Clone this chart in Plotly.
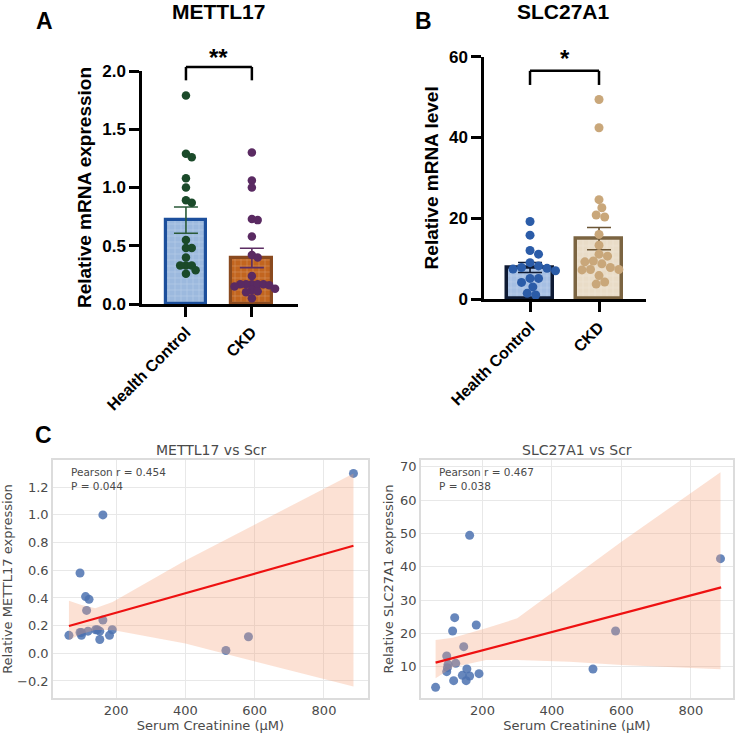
import plotly.graph_objects as go

W, H = 737, 735

# ---------------- Data ----------------
groups = ["Health Control", "CKD"]

# Panel A: METTL17 relative mRNA expression
mettl17_hc = [1.79, 1.29, 1.26, 1.08, 1.00, 0.89, 0.87, 0.55, 0.48, 0.48, 0.40, 0.33, 0.33, 0.33, 0.29, 0.26]
mettl17_ckd = [1.30, 1.06, 1.00, 0.73, 0.72, 0.58, 0.42, 0.40, 0.24, 0.17, 0.17, 0.17, 0.17, 0.17,
               0.16, 0.15, 0.13, 0.12, 0.11, 0.10, 0.05]
mettl17_mean = [0.72, 0.395]
mettl17_sem = [0.113, 0.083]

# Panel B: SLC27A1 relative mRNA level
slc_hc = [19.2, 15.8, 12.0, 11.1, 9.0, 8.2, 7.8, 7.6, 7.0, 7.4, 5.1, 5.1, 4.1, 3.0, 1.4, 1.0]
slc_ckd = [49.4, 42.4, 24.6, 22.6, 20.3, 20.8, 16.0, 13.3, 11.1, 10.6, 9.4, 9.2, 8.7, 7.8,
           7.3, 7.3, 7.2, 5.8, 4.2, 3.7]
slc_mean = [7.8, 14.95]
slc_sem = [1.25, 2.75]

# Significance brackets (top, end) in data units and labels
sig_a = (2.035, 1.92, "**", 2.115)
sig_b = (56.5, 53.0, "*", 59.6)

# Panel C left: METTL17 vs Scr
scr_m = [64, 96, 96, 100, 100, 112, 115, 119, 122, 141, 146, 153, 153, 162, 162, 181, 189, 517, 582, 885]
mettl_m = [0.13, 0.58, 0.15, 0.15, 0.13, 0.41, 0.31, 0.16, 0.39, 0.17, 0.17, 0.16, 0.10, 1.00, 0.24,
           0.13, 0.17, 0.02, 0.12, 1.30]
fit_m_x = [64, 885]
fit_m_y = [0.197, 0.777]
ci_m_x = [64, 100, 140, 190, 400, 885]
ci_m_hi = [0.38, 0.35, 0.325, 0.37, 0.67, 1.30]
ci_m_lo = [0.096, 0.14, 0.168, 0.168, 0.07, -0.24]
stat_m = "Pearson r = 0.454<br>P = 0.044"

# Panel C right: SLC27A1 vs Scr
scr_s = [65, 97, 97, 99, 101, 114, 117, 120, 123, 142, 146, 153, 155, 163, 163, 182, 190, 518, 583, 885]
slc_s = [3.8, 13.2, 8.5, 9.7, 10.7, 20.7, 5.8, 24.7, 11.0, 7.4, 16.0, 5.8, 9.3, 49.4, 7.2,
         22.5, 7.9, 9.3, 20.7, 42.4]
fit_s_x = [65, 887]
fit_s_y = [11.2, 33.8]
ci_s_x = [65, 115, 210, 300, 450, 600, 885]
ci_s_hi = [18.0, 18.7, 21.5, 24.5, 36.0, 47.5, 68.3]
ci_s_lo = [6.5, 9.8, 12.0, 12.0, 11.5, 10.5, 9.2]
stat_s = "Pearson r = 0.467<br>P = 0.038"

# ---------------- Layout geometry (pixels) ----------------
def px_x(p):
    return p / W

def px_y(p):
    return 1 - p / H

A_dom_x = [px_x(142), px_x(298)]
A_dom_y = [px_y(304), px_y(71)]
A_xr = [-0.667, 1.70]
A_yr = [0, 2.0]

B_dom_x = [px_x(484), px_x(646)]
B_dom_y = [px_y(299), px_y(56.7)]
B_xr = [-0.667, 1.681]
B_yr = [0, 60]

C1_dom_x = [px_x(53), px_x(368)]
C2_dom_x = [px_x(421), px_x(733)]
C_dom_y = [px_y(698), px_y(460)]
C1_xr, C1_yr = [18, 927], [-0.323, 1.397]
C2_xr, C2_yr = [23, 921], [0.6, 72]

BOLD = "Liberation Sans, Arial, sans-serif"
SNS = "DejaVu Sans, sans-serif"
GREY = "#4a4a4a"


def swarm(vals, dom_x, xr, dom_y, yr, d):
    """Simple beeswarm: returns x offsets (category units) avoiding overlap."""
    ppu_x = (dom_x[1] - dom_x[0]) * W / (xr[1] - xr[0])
    ppu_y = (dom_y[1] - dom_y[0]) * H / (yr[1] - yr[0])
    order = sorted(range(len(vals)), key=lambda i: -vals[i])
    placed = []
    offs = [0.0] * len(vals)
    step = d / 3.0
    cands = [0.0]
    for k in range(1, 60):
        cands += [k * step, -k * step]
    for i in order:
        y = vals[i] * ppu_y
        for c in cands:
            if all((c - px) ** 2 + (y - py) ** 2 >= d ** 2 for px, py in placed):
                break
        placed.append((c, y))
        offs[i] = c / ppu_x
    return offs


fig = go.Figure()

def pattern(fill):
    return dict(shape="+", bgcolor=fill, fgcolor="white", fgopacity=0.35, size=6,
                solidity=0.15, fillmode="replace")

# ---------------- Panel A ----------------
bar_specs_A = [
    dict(fill="#9cb9de", line="#1c4f9c", err="#2a5a38", dot="#1b4a2a"),
    dict(fill="#c2651f", line="#8a4a1f", err="#5c2d63", dot="#5a2a62"),
]
for gi, (vals, spec) in enumerate(zip([mettl17_hc, mettl17_ckd], bar_specs_A)):
    fig.add_trace(go.Bar(
        x=[gi], y=[mettl17_mean[gi]], width=0.62, xaxis="x", yaxis="y",
        marker=dict(color=spec["fill"], line=dict(color=spec["line"], width=3.2),
                    pattern=pattern(spec["fill"])),
        error_y=dict(type="data", array=[mettl17_sem[gi]], color=spec["err"], thickness=1.6, width=12),
        showlegend=False, hoverinfo="skip"))
    offs = swarm(vals, A_dom_x, A_xr, A_dom_y, A_yr, 5.8)
    fig.add_trace(go.Scatter(
        x=[gi + o for o in offs], y=vals, mode="markers", xaxis="x", yaxis="y",
        marker=dict(color=spec["dot"], size=8.5), showlegend=False, cliponaxis=False))

# ---------------- Panel B ----------------
bar_specs_B = [
    dict(fill="#a6bfe3", line="#0e1a33", err="#0e1a33", dot="#2b5ca8"),
    dict(fill="#e9dcc7", line="#7b6441", err="#6b5535", dot="#c9a77a"),
]
for gi, (vals, spec) in enumerate(zip([slc_hc, slc_ckd], bar_specs_B)):
    fig.add_trace(go.Bar(
        x=[gi], y=[slc_mean[gi]], width=0.66, xaxis="x2", yaxis="y2",
        marker=dict(color=spec["fill"], line=dict(color=spec["line"], width=3.5),
                    pattern=pattern(spec["fill"])),
        error_y=dict(type="data", array=[slc_sem[gi]], color=spec["err"], thickness=1.6, width=12),
        showlegend=False, hoverinfo="skip"))
    offs = swarm(vals, B_dom_x, B_xr, B_dom_y, B_yr, 8.5)
    fig.add_trace(go.Scatter(
        x=[gi + o for o in offs], y=vals, mode="markers", xaxis="x2", yaxis="y2",
        marker=dict(color=spec["dot"], size=9), showlegend=False, cliponaxis=False))

# ---------------- Panel C ----------------
def reg_panel(xs, ys, fx, fy, cx, clo, chi, xa, ya):
    fig.add_trace(go.Scatter(x=xs, y=ys, mode="markers", xaxis=xa, yaxis=ya,
                             marker=dict(color="rgba(76,114,176,0.85)", size=9),
                             showlegend=False))
    fig.add_trace(go.Scatter(x=cx, y=clo, mode="lines", line=dict(width=0), xaxis=xa, yaxis=ya,
                             showlegend=False, hoverinfo="skip"))
    fig.add_trace(go.Scatter(x=cx, y=chi, mode="lines", line=dict(width=0), fill="tonexty",
                             fillcolor="rgba(245,165,125,0.33)", xaxis=xa, yaxis=ya,
                             showlegend=False, hoverinfo="skip"))
    fig.add_trace(go.Scatter(x=fx, y=fy, mode="lines", line=dict(color="#ee1111", width=2.2),
                             xaxis=xa, yaxis=ya, showlegend=False))

reg_panel(scr_m, mettl_m, fit_m_x, fit_m_y, ci_m_x, ci_m_lo, ci_m_hi, "x3", "y3")
reg_panel(scr_s, slc_s, fit_s_x, fit_s_y, ci_s_x, ci_s_lo, ci_s_hi, "x4", "y4")

# ---------------- Axes ----------------
def bar_xaxis(dom, rng, anchor):
    return dict(domain=dom, range=rng, anchor=anchor, tickmode="array", tickvals=[0, 1],
                ticktext=groups, tickangle=-45, showline=True, linecolor="black", linewidth=2.5,
                ticks="outside", ticklen=10, tickwidth=2.5, tickcolor="black", showgrid=False,
                zeroline=False, automargin=False,
                tickfont=dict(family=BOLD, size=16, color="black", weight="bold"))

def bar_yaxis(dom, rng, anchor, tickvals, fmt, title):
    return dict(domain=dom, range=rng, anchor=anchor, tickmode="array", tickvals=tickvals,
                tickformat=fmt, showline=True, linecolor="black", linewidth=2.5, ticks="outside",
                ticklen=10, tickwidth=2.5, tickcolor="black", showgrid=False, zeroline=False,
                automargin=False,
                tickfont=dict(family=BOLD, size=17, color="black", weight="bold"),
                title=dict(text=title, standoff=6,
                           font=dict(family=BOLD, size=19, color="black", weight="bold")))

def reg_axis(dom, rng, anchor, title, tickvals=None, fmt=None):
    d = dict(domain=dom, range=rng, anchor=anchor, showline=True, mirror=True,
             linecolor="#dcdcdc", linewidth=1.5, showgrid=True, gridcolor="#e8e8e8",
             gridwidth=1, zeroline=False, ticks="", automargin=False,
             tickfont=dict(family=SNS, size=13, color=GREY),
             title=dict(text=title, standoff=4, font=dict(family=SNS, size=13, color=GREY)))
    if tickvals is not None:
        d["tickmode"] = "array"
        d["tickvals"] = tickvals
    if fmt:
        d["tickformat"] = fmt
    return d

layout = dict(
    template="none",
    width=W, height=H, margin=dict(l=0, r=0, t=0, b=0, autoexpand=False),
    paper_bgcolor="white", plot_bgcolor="white", bargap=0,
    xaxis=bar_xaxis(A_dom_x, A_xr, "y"),
    yaxis=bar_yaxis(A_dom_y, A_yr, "x", [0, 0.5, 1.0, 1.5, 2.0], ".1f", "Relative mRNA expression"),
    xaxis2=bar_xaxis(B_dom_x, B_xr, "y2"),
    yaxis2=bar_yaxis(B_dom_y, B_yr, "x2", [0, 20, 40, 60], "d", "Relative mRNA level"),
    xaxis3=reg_axis(C1_dom_x, C1_xr, "y3", "Serum Creatinine (μM)", [200, 400, 600, 800]),
    yaxis3=reg_axis(C_dom_y, C1_yr, "x3", "Relative METTL17 expression",
                    [-0.2, 0.0, 0.2, 0.4, 0.6, 0.8, 1.0, 1.2], ".1f"),
    xaxis4=reg_axis(C2_dom_x, C2_xr, "y4", "Serum Creatinine (μM)", [200, 400, 600, 800]),
    yaxis4=reg_axis(C_dom_y, C2_yr, "x4", "Relative SLC27A1 expression",
                    [10, 20, 30, 40, 50, 60, 70]),
)
fig.update_layout(**layout)

# ---------------- Brackets & annotations ----------------
shapes = []
annotations = []
for (top, end, label, star_y), xa, ya, yr in [(sig_a, "x", "y", A_yr), (sig_b, "x2", "y2", B_yr)]:
    ft, fe = top / yr[1], end / yr[1]
    for (x0, y0, x1, y1) in [(0, fe, 0, ft), (0, ft, 1, ft), (1, ft, 1, fe)]:
        shapes.append(dict(type="line", xref=xa, yref=ya + " domain", x0=x0, x1=x1, y0=y0, y1=y1,
                           line=dict(color="black", width=2.5)))
    annotations.append(dict(text=f"<b>{label}</b>", xref=xa, yref=ya + " domain", x=0.5,
                            y=star_y / yr[1], showarrow=False, xanchor="center", yanchor="middle",
                            font=dict(family=BOLD, size=24, color="black")))

def label(text, x, y, size, family=BOLD, color="black", xref="paper"):
    return dict(text=text, xref=xref, yref="paper", x=x, y=y, xanchor="center", yanchor="middle",
                showarrow=False, font=dict(family=family, size=size, color=color))

annotations += [
    label("<b>METTL17</b>", px_x(219), px_y(12), 21),
    label("<b>SLC27A1</b>", px_x(563), px_y(12), 21),
    label("<b>A</b>", px_x(44), px_y(21), 23),
    label("<b>B</b>", px_x(423), px_y(21), 23),
    label("<b>C</b>", px_x(43), px_y(435), 23),
    label("METTL17 vs Scr", 0.5, px_y(450), 14, SNS, GREY, "x3 domain"),
    label("SLC27A1 vs Scr", 0.5, px_y(450), 14, SNS, GREY, "x4 domain"),
    dict(text=stat_m, xref="x3 domain", yref="y3 domain", x=0.05, y=0.985, xanchor="left",
         yanchor="top", align="left", showarrow=False, font=dict(family=SNS, size=10.5, color=GREY)),
    dict(text=stat_s, xref="x4 domain", yref="y4 domain", x=0.05, y=0.985, xanchor="left",
         yanchor="top", align="left", showarrow=False, font=dict(family=SNS, size=10.5, color=GREY)),
]
fig.update_layout(shapes=shapes, annotations=annotations)

fig.write_html("out.html")
